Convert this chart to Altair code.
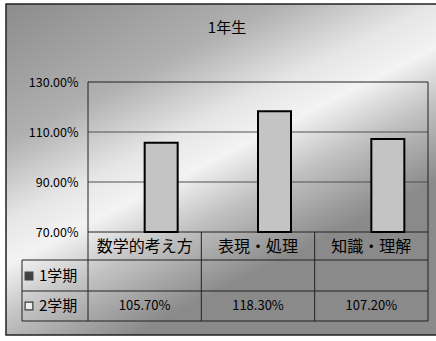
import altair as alt
import pandas as pd

# ---- chart content ----
TITLE = "1年生"
categories = ["数学的考え方", "表現・処理", "知識・理解"]
series = ["1学期", "2学期"]
term1_values = [None, None, None]          # no entries for 1学期
term2_values = [1.057, 1.183, 1.072]
y_ticks = [0.70, 0.90, 1.10, 1.30]

# ---- layout ----
W, H = 340, 150
FONT = "Noto Sans CJK JP"
LINE = "#222222"
INK = "#000000"

bars_df = pd.DataFrame({
    "category": categories,
    "series": series[1],
    "value": term2_values,
    "base": y_ticks[0],
})
grid_df = pd.DataFrame({"tick": y_ticks[1:-1]})
one = pd.DataFrame({"k": [0]})
legend_df = pd.DataFrame({"series": series})
title_df = pd.DataFrame({"t": [TITLE]})

x_scale = alt.Scale(domain=categories, paddingInner=0, paddingOuter=0)
x_axis = alt.Axis(title=None, orient="bottom", ticks=False, tickSize=0, domain=False,
                  labelPadding=14, labelBaseline="middle", labelAngle=0,
                  labelFont=FONT, labelFontSize=16, labelColor=INK, zindex=1)
y_scale = alt.Scale(domain=[y_ticks[0], y_ticks[-1]], nice=False, zero=False)
y_axis = alt.Axis(title=None, values=y_ticks, format=".2%", ticks=False, tickSize=0,
                  domain=False, grid=False, labelPadding=10, labelFlush=False,
                  labelFont=FONT, labelFontSize=12.5, labelColor=INK, zindex=1)

x_enc = alt.X("category:N", sort=categories, scale=x_scale, axis=x_axis)

# chart-area backdrop with the grey wash and outer frame
backdrop = alt.Chart(one).mark_rect(
    fill=alt.LinearGradient(
        gradient="linear", x1=0, y1=0, x2=0.55, y2=0.83,
        stops=[
            alt.GradientStop(color="#8c8c8c", offset=0),
            alt.GradientStop(color="#b0b0b0", offset=0.35),
            alt.GradientStop(color="#e6e6e6", offset=0.55),
            alt.GradientStop(color="#f3f3f3", offset=0.66),
            alt.GradientStop(color="#c2c2c2", offset=0.8),
            alt.GradientStop(color="#8a8a8a", offset=1),
        ],
    ),
    stroke=LINE, strokeWidth=1.5,
).encode(x=alt.value(-82), x2=alt.value(352), y=alt.value(-78), y2=alt.value(253))

gridlines = alt.Chart(grid_df).mark_rule(color="#505050", strokeWidth=1).encode(
    y=alt.Y("tick:Q", scale=y_scale, axis=y_axis)
)

plot_frame = alt.Chart(one).mark_rect(fill=None, stroke=LINE, strokeWidth=1).encode(
    x=alt.value(0), x2=alt.value(W), y=alt.value(0), y2=alt.value(H)
)

# data-table grid
row_lines = [178, 209, 239]
col_lines = [0, W / 3, 2 * W / 3, W]
table_rules = []
for ry in row_lines:
    table_rules.append(
        alt.Chart(one).mark_rule(color=LINE, strokeWidth=1).encode(
            x=alt.value(-66), x2=alt.value(W), y=alt.value(ry))
    )
table_rules.append(
    alt.Chart(one).mark_rule(color=LINE, strokeWidth=1).encode(
        x=alt.value(-66), y=alt.value(178), y2=alt.value(239))
)
for cx in col_lines:
    table_rules.append(
        alt.Chart(one).mark_rule(color=LINE, strokeWidth=1).encode(
            x=alt.value(cx), y=alt.value(H), y2=alt.value(239))
    )

bars = alt.Chart(bars_df).mark_bar(fill="#c4c4c4", stroke="#000000", strokeWidth=2).encode(
    x=x_enc,
    xOffset=alt.XOffset("series:N", scale=alt.Scale(domain=series, paddingInner=0,
                                                    paddingOuter=0.717)),
    y=alt.Y("value:Q", scale=y_scale, axis=y_axis),
    y2="base:Q",
)

values_row = alt.Chart(bars_df).mark_text(font=FONT, fontSize=13, color=INK).encode(
    x=x_enc,
    y=alt.value(224),
    text=alt.Text("value:Q", format=".2%"),
)

row_y = [194, 224]
legend_layers = []
for i, s in enumerate(series):
    sub = legend_df[legend_df["series"] == s]
    legend_layers.append(
        alt.Chart(sub).mark_square(
            size=60, filled=True,
            fill="#000000" if i == 0 else "#ffffff",
            stroke="#000000", strokeWidth=1.2,
        ).encode(x=alt.value(-59), y=alt.value(row_y[i]))
    )
    legend_layers.append(
        alt.Chart(sub).mark_text(font=FONT, fontSize=15, align="left", color=INK).encode(
            x=alt.value(-49), y=alt.value(row_y[i]), text="series:N")
    )

title = alt.Chart(title_df).mark_text(font=FONT, fontSize=15, color=INK).encode(
    x=alt.value(139), y=alt.value(-54), text="t:N"
)

chart = alt.layer(
    backdrop, gridlines, plot_frame, *table_rules, bars, values_row, *legend_layers, title
).properties(
    width=W, height=H,
    padding={"left": 88, "top": 82, "right": 8, "bottom": 109},
    autosize=alt.AutoSizeParams(type="none"),
).configure(background="white").configure_view(stroke=None)

chart.save("out.html", embed_options={"renderer": "svg", "actions": False})
